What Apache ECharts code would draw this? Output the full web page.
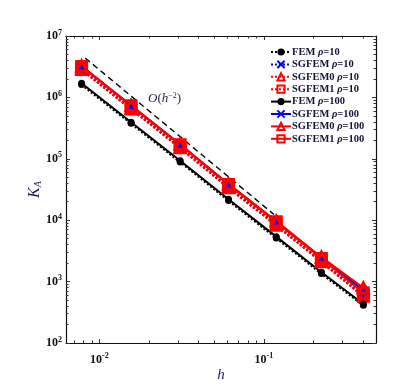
<!DOCTYPE html>
<html>
<head>
<meta charset="utf-8">
<script src="https://cdn.jsdelivr.net/npm/echarts@6/dist/echarts.min.js"></script>
<style>
  html, body { margin: 0; padding: 0; background: #fff; }
  #main { width: 410px; height: 388px; }
</style>
</head>
<body>
<div id="main"></div>
<script>
  // mesh size h
  var hValues = [0.0078, 0.0156, 0.031, 0.061, 0.119, 0.224, 0.403];

  // condition numbers, rho = 10
  var fem10 = [1.62e6, 3.78e5, 8.9e4, 2.1e4, 5.15e3, 1.36e3, 412];
  var sgfem10 = [2.87e6, 6.55e5, 1.52e5, 3.4e4, 8.4e3, 2.12e3, 590];
  var sgfem0_10 = [2.9e6, 6.6e5, 1.54e5, 3.45e4, 8.5e3, 2.15e3, 600];
  var sgfem1_10 = [2.85e6, 6.5e5, 1.51e5, 3.37e4, 8.3e3, 2.1e3, 575];

  // condition numbers, rho = 100
  var fem100 = [1.7e6, 3.95e5, 9.3e4, 2.2e4, 5.4e3, 1.42e3, 432];
  var sgfem100 = [3.22e6, 7.35e5, 1.71e5, 3.85e4, 9.55e3, 2.45e3, 720];
  var sgfem0_100 = [3.25e6, 7.4e5, 1.73e5, 3.9e4, 9.7e3, 2.5e3, 790];
  var sgfem1_100 = [3.2e6, 7.3e5, 1.7e5, 3.8e4, 9.4e3, 2.37e3, 650];

  // O(h^-2) reference line
  var refH = [0.0082, 0.1153];
  var refK = [4.38e6, 1.24e4];

  // axis ticks
  var xMajor = [0.01, 0.1];
  var yMajor = [1e2, 1e3, 1e4, 1e5, 1e6, 1e7];
  var xMinor = [0.007, 0.008, 0.009, 0.02, 0.03, 0.04, 0.05, 0.06, 0.07, 0.08, 0.09, 0.2, 0.3, 0.4];
  var yMinor = [];
  for (var k = 2; k <= 6; k++) {
    for (var m = 2; m <= 9; m++) yMinor.push(m * Math.pow(10, k));
  }

  var serif = '"Liberation Serif", "DejaVu Serif", serif';
  var navy = '#1c2152';

  function zip(xs, ys) {
    return xs.map(function (x, i) { return [x, ys[i]]; });
  }

  function powLabel(v) {
    var e = Math.round(Math.log10(v));
    return '{b|10}{s|' + e + '}';
  }
  var powRich = {
    b: { fontFamily: serif, fontWeight: 'bold', fontSize: 12, color: '#111' },
    s: { fontFamily: serif, fontWeight: 'bold', fontSize: 8, color: '#111', verticalAlign: 'top', padding: [0, 0, 7, 0] }
  };

  var xMin = 0.00627, xMax = 0.481;

  function xAx(pos, values, len, main) {
    return {
      type: 'log', position: pos, min: xMin, max: xMax,
      axisLine: { show: main, lineStyle: { color: '#111', width: 1.2 } },
      axisTick: { show: true, inside: true, length: len, customValues: values, lineStyle: { color: '#333', width: 1 } },
      axisLabel: { show: false },
      splitLine: { show: false }
    };
  }
  function yAx(pos, values, len, main) {
    return {
      type: 'log', position: pos, min: 1e2, max: 1e7,
      axisLine: { show: main, lineStyle: { color: '#111', width: 1.2 } },
      axisTick: { show: true, inside: true, length: len, customValues: values, lineStyle: { color: '#333', width: 1 } },
      axisLabel: { show: false },
      splitLine: { show: false }
    };
  }

  var xBottom = xAx('bottom', xMajor, 4, true);
  xBottom.axisLabel = { show: true, customValues: xMajor, formatter: powLabel, rich: powRich, margin: 9 };
  xBottom.name = 'h';
  xBottom.nameLocation = 'middle';
  xBottom.nameGap = 25;
  xBottom.nameMoveOverlap = false;
  xBottom.nameTextStyle = { fontFamily: serif, fontStyle: 'italic', fontSize: 15, color: navy };

  var yLeft = yAx('left', yMajor, 4, true);
  yLeft.axisLabel = { show: true, customValues: yMajor, formatter: powLabel, rich: powRich, margin: 4 };
  yLeft.name = '{k|K}{a|A}';
  yLeft.nameLocation = 'middle';
  yLeft.nameRotate = 90;
  yLeft.nameGap = 23;
  yLeft.nameMoveOverlap = false;
  yLeft.nameTextStyle = {
    rich: {
      k: { fontFamily: serif, fontStyle: 'italic', fontSize: 16, color: navy },
      a: { fontFamily: serif, fontStyle: 'italic', fontSize: 10, color: navy, verticalAlign: 'bottom', padding: [6, 0, 0, 0] }
    }
  };

  var dotted = [2, 2];
  var crossPath = 'path://M0,0L10,10M10,0L0,10';

  function makeSeries(name, data, color, symbol, solid) {
    var filled = symbol === 'circle';
    return {
      name: name,
      type: 'line',
      data: zip(hValues, data),
      symbol: symbol,
      symbolSize: symbol === 'circle' ? 7 : (symbol === crossPath ? 8 : 10),
      showSymbol: true,
      lineStyle: { color: color, width: solid ? 2 : 2.6, type: solid ? 'solid' : dotted },
      itemStyle: {
        color: filled ? color : 'rgba(0,0,0,0)',
        borderColor: color,
        borderWidth: filled ? 0 : 3
      },
      emphasis: { disabled: true },
      z: 3
    };
  }

  var seriesList = [
    makeSeries('FEM ρ=10', fem10, '#000', 'circle', false),
    makeSeries('SGFEM ρ=10', sgfem10, '#0000ff', crossPath, false),
    makeSeries('SGFEM0 ρ=10', sgfem0_10, '#ff0000', 'triangle', false),
    makeSeries('SGFEM1 ρ=10', sgfem1_10, '#ff0000', 'rect', false),
    makeSeries('FEM ρ=100', fem100, '#000', 'circle', true),
    makeSeries('SGFEM ρ=100', sgfem100, '#0000ff', crossPath, true),
    makeSeries('SGFEM0 ρ=100', sgfem0_100, '#ff0000', 'triangle', true),
    makeSeries('SGFEM1 ρ=100', sgfem1_100, '#ff0000', 'rect', true),
    {
      name: 'ref',
      type: 'line',
      data: zip(refH, refK),
      symbol: 'none',
      lineStyle: { color: '#000', width: 1.4, type: [6, 4] },
      emphasis: { disabled: true },
      z: 2
    }
  ];

  var myChart = echarts.init(document.getElementById('main'), null, { renderer: 'canvas' });
  var option = {
    animation: false,
    backgroundColor: '#fff',
    grid: { left: 66, top: 36, width: 310, height: 311, containLabel: false },
    xAxis: [
      xBottom,
      xAx('bottom', xMinor, 2.5, false),
      xAx('top', xMajor, 4, true),
      xAx('top', xMinor, 2.5, false)
    ],
    yAxis: [
      yLeft,
      yAx('left', yMinor, 2.5, false),
      yAx('right', yMajor, 4, true),
      yAx('right', yMinor, 2.5, false)
    ],
    legend: {
      orient: 'vertical',
      left: 265,
      top: 41.5,
      itemWidth: 20,
      itemHeight: 9,
      itemGap: 1.4,
      selectedMode: false,
      data: seriesList.slice(0, 8).map(function (s) { return s.name; }),
      formatter: function (name) {
        var parts = name.split(' ');
        return '{b|' + parts[0] + ' }{r|ρ}{b|' + parts[1].slice(1) + '}';
      },
      textStyle: {
        padding: [0, 0, 0, -4],
        rich: {
          b: { fontFamily: serif, fontWeight: 'bold', fontSize: 10.5, color: '#14143a', lineHeight: 11 },
          r: { fontFamily: serif, fontWeight: 'bold', fontStyle: 'italic', fontSize: 10.5, color: '#14143a', lineHeight: 11 }
        }
      }
    },
    graphic: [
      {
        type: 'text',
        left: 148,
        top: 92,
        style: {
          text: '{i|O}{n|(}{i|h}{s|−2}{n|)}',
          rich: {
            i: { fontFamily: serif, fontStyle: 'italic', fontSize: 13, fill: navy },
            n: { fontFamily: serif, fontSize: 13, fill: navy },
            s: { fontFamily: serif, fontSize: 8, fill: navy, verticalAlign: 'top', padding: [0, 0, 6, 0] }
          }
        }
      }
    ],
    series: seriesList
  };
  myChart.setOption(option);
</script>
</body>
</html>
